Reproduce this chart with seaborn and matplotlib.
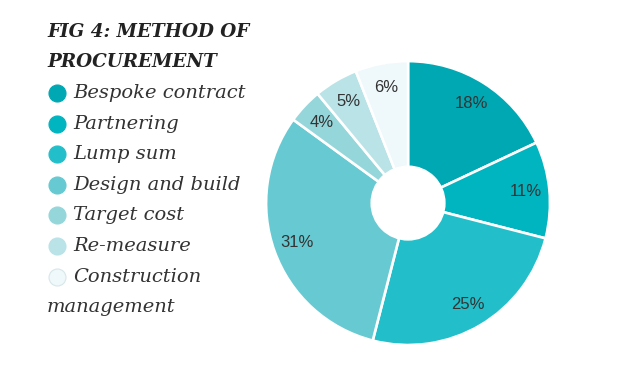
import numpy as np
import matplotlib.pyplot as plt
import seaborn as sns

sns.set_style("white")

# data
methods = ["Bespoke contract", "Partnering", "Lump sum", "Design and build",
           "Target cost", "Re-measure", "Construction management"]
shares = [18, 11, 25, 31, 4, 5, 6]
colours = ["#00a8b3", "#00b4c0", "#22bfca", "#67c9d1", "#95d6db", "#bae3e7", "#eff8fa"]

pal = sns.color_palette(colours)

fig = plt.figure(figsize=(6.22, 3.75), dpi=100)
fig.patch.set_facecolor("white")

# donut
ax = fig.add_axes([0.4277, 0.08, 0.4566, 0.757])
wedges, texts, autotexts = ax.pie(
    shares, colors=pal, startangle=90, counterclock=False,
    autopct=lambda p: f"{p:.0f}%", pctdistance=0.83,
    wedgeprops=dict(edgecolor="white", linewidth=1.9),
    textprops=dict(family=["Liberation Sans", "DejaVu Sans"],
                   fontsize=12, color="#333333"))
ax.add_artist(plt.Circle((0, 0), 0.26, color="white", zorder=5))
ax.set_xlim(-1.0, 1.0)
ax.set_ylim(-1.0, 1.0)
ax.set_aspect("equal")
ax.axis("off")

# title
fig.text(47 / 622, 1 - 32 / 375, "FIG 4: METHOD OF", family="DejaVu Serif",
         style="italic", weight="bold", fontsize=13.2, color="#222222", va="center")
fig.text(47 / 622, 1 - 62 / 375, "PROCUREMENT", family="DejaVu Serif",
         style="italic", weight="bold", fontsize=13.2, color="#222222", va="center")

# legend drawn by hand so the last label can wrap to the margin
lax = fig.add_axes([0, 0, 1, 1])
lax.set_xlim(0, 622)
lax.set_ylim(375, 0)
lax.axis("off")
row_y = 93
step = 30.6
for i, (name, c) in enumerate(zip(methods, pal)):
    y = row_y + i * step
    edge = "#d9e6e8" if i == len(methods) - 1 else c
    lax.scatter([57], [y], s=150, color=c, edgecolors=edge, linewidths=0.8)
    label = "Construction" if name == "Construction management" else name
    lax.text(73, y, label, family="DejaVu Serif", style="italic",
             fontsize=14, color="#333333", va="center")
lax.text(47, row_y + len(methods) * step, "management", family="DejaVu Serif",
         style="italic", fontsize=14, color="#333333", va="center")

fig.savefig("out.png", dpi=100)
